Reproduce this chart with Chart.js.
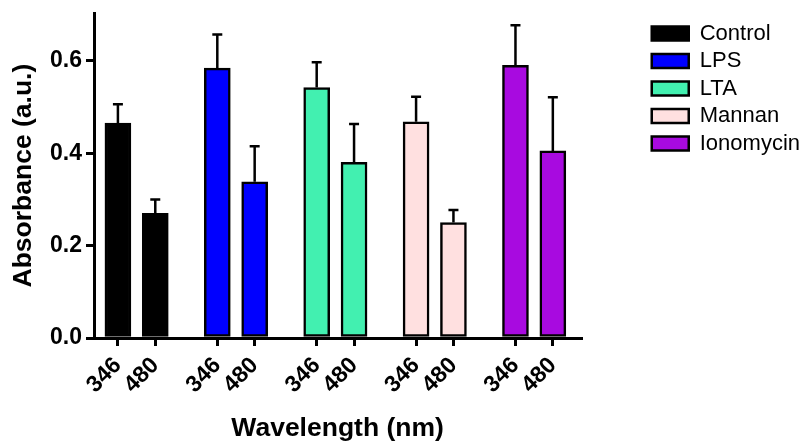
<!DOCTYPE html>
<html>
<head>
<meta charset="utf-8">
<script src="https://cdn.jsdelivr.net/npm/chart.js@4"></script>
<style>
  html, body { margin: 0; padding: 0; background: #fff; }
  #wrap { width: 810px; height: 443px; }
</style>
</head>
<body>
<div id="wrap"><canvas id="absChart"></canvas></div>
<script>
// Datos
const groups = ["Control", "LPS", "LTA", "Mannan", "Ionomycin"];
const wavelengths = ["346", "480"];
const mean346 = [0.465, 0.584, 0.542, 0.468, 0.590];
const mean480 = [0.270, 0.338, 0.380, 0.250, 0.405];
const err346 = [0.041, 0.073, 0.055, 0.054, 0.087];
const err480 = [0.030, 0.077, 0.083, 0.027, 0.116];
const yTicks = [0, 0.2, 0.4, 0.6];

const colors = ["#000000", "#0000ff", "#42f0b0", "#ffe0e0", "#a80ae0"];
const groupStep = 2.66; // separacion entre grupos (en unidades de barra)
const FONT = "'Liberation Sans', Arial, sans-serif";

// posicion x de cada barra
function xPos(g, w) {
    return g * groupStep + w;
}

const datasets = groups.map(function (name, g) {
    return {
        label: name,
        data: [
            { x: xPos(g, 0), y: mean346[g] },
            { x: xPos(g, 1), y: mean480[g] },
        ],
        errors: [err346[g], err480[g]],
        backgroundColor: colors[g],
        borderColor: "#000",
        borderWidth: 2.5,
        borderSkipped: false,
        barThickness: 26,
        grouped: false,
    };
});

const xTickValues = [];
groups.forEach(function (g, gi) {
    wavelengths.forEach(function (w, wi) {
        xTickValues.push(xPos(gi, wi));
    });
});

// Barras de error (solo hacia arriba, con tope)
const errorBars = {
    id: "errorBars",
    afterDatasetsDraw: function (chart) {
        const ctx = chart.ctx;
        const yScale = chart.scales.y;
        ctx.save();
        ctx.strokeStyle = "#000";
        ctx.lineWidth = 2.5;
        chart.data.datasets.forEach(function (ds, i) {
            const meta = chart.getDatasetMeta(i);
            meta.data.forEach(function (bar, j) {
                const top = yScale.getPixelForValue(ds.data[j].y + ds.errors[j]);
                ctx.beginPath();
                ctx.moveTo(bar.x, bar.y);
                ctx.lineTo(bar.x, top);
                ctx.moveTo(bar.x - 5, top);
                ctx.lineTo(bar.x + 5, top);
                ctx.stroke();
            });
        });
        ctx.restore();
    },
};

new Chart(document.getElementById("absChart"), {
    type: "bar",
    data: { datasets: datasets },
    plugins: [errorBars],
    options: {
        responsive: true,
        maintainAspectRatio: false,
        animation: false,
        layout: { padding: { top: 13, left: 0, right: 0, bottom: 0 } },
        plugins: {
            tooltip: { enabled: false },
            legend: {
                position: "right",
                align: "start",
                maxWidth: 220,
                title: {
                    display: true,
                    text: "",
                    padding: 0,
                    font: { size: 4, lineHeight: 1 },
                },
                labels: {
                    boxWidth: 37,
                    boxHeight: 14,
                    padding: 5.5,
                    color: "#000",
                    font: { family: FONT, size: 22 },
                },
            },
        },
        scales: {
            x: {
                type: "linear",
                offset: false,
                min: -0.64,
                max: 12.4,
                afterBuildTicks: function (scale) {
                    scale.ticks = xTickValues.map(function (v) {
                        return { value: v };
                    });
                },
                afterFit: function (scale) {
                    scale.height = 105;
                },
                ticks: {
                    autoSkip: false,
                    minRotation: 45,
                    maxRotation: 45,
                    padding: 6,
                    color: "#000",
                    font: { family: FONT, size: 23, weight: "bold" },
                    callback: function (value, index) {
                        return wavelengths[index % 2];
                    },
                },
                grid: {
                    offset: false,
                    drawOnChartArea: false,
                    drawTicks: true,
                    tickLength: 8,
                    lineWidth: 3,
                    color: "#000",
                },
                border: { display: true, width: 3, color: "#000" },
                title: {
                    display: true,
                    text: "Wavelength (nm)",
                    color: "#000",
                    padding: { top: 0, bottom: 0 },
                    font: { family: FONT, size: 26.5, weight: "bold", lineHeight: 1.1 },
                },
            },
            y: {
                min: 0,
                max: 0.703,
                afterBuildTicks: function (scale) {
                    scale.ticks = yTicks.map(function (v) {
                        return { value: v };
                    });
                },
                afterFit: function (scale) {
                    scale.width = 94;
                },
                ticks: {
                    padding: 4,
                    color: "#000",
                    font: { family: FONT, size: 23, weight: "bold", lineHeight: 0.8 },
                    callback: function (value) {
                        return value.toFixed(1);
                    },
                },
                grid: {
                    drawOnChartArea: false,
                    drawTicks: true,
                    tickLength: 8,
                    lineWidth: 3,
                    color: "#000",
                },
                border: { display: true, width: 3, color: "#000" },
                title: {
                    display: true,
                    text: "Absorbance (a.u.)",
                    color: "#000",
                    padding: { top: 8, bottom: 0 },
                    font: { family: FONT, size: 26.5, weight: "bold" },
                },
            },
            // eje vacio para separar la leyenda del grafico
            gap: {
                type: "linear",
                position: "right",
                display: true,
                ticks: { display: false },
                grid: { display: false },
                border: { display: false },
                afterFit: function (scale) {
                    scale.width = 65;
                },
            },
        },
    },
});
</script>
</body>
</html>
